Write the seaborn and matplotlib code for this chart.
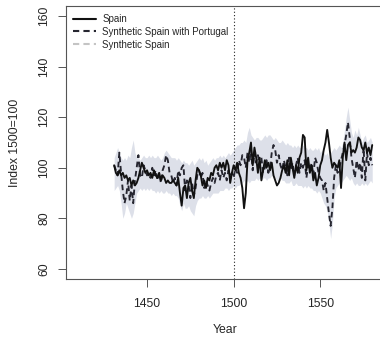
import matplotlib
matplotlib.use("Agg")
import matplotlib.pyplot as plt
from matplotlib.lines import Line2D
import numpy as np
import pandas as pd
import seaborn as sns

# years 1431..1580
years = list(range(1431, 1581))

spain = [
    101, 98, 97, 99, 97, 98, 96, 97, 95, 96,
    93, 95, 93, 94, 96, 99, 102, 100, 98, 99,
    97, 98, 96, 99, 97, 96, 98, 95, 97, 96,
    94, 95, 94, 94, 95, 94, 93, 96, 90, 85,
    92, 93, 88, 94, 96, 91, 88, 95, 100, 99,
    97, 93, 95, 92, 96, 95, 98, 97, 100, 101,
    99, 102, 100, 102, 99, 103, 101, 94, 98, 101,
    99, 102, 98, 96, 92, 84, 90, 103, 106, 110,
    101, 108, 104, 98, 104, 95, 99, 103, 100, 102,
    99, 102, 97, 95, 93, 94, 96, 99, 101, 98,
    103, 97, 104, 100, 96, 101, 98, 104, 106, 113,
    112, 99, 104, 98, 101, 95, 98, 93, 96, 101,
    103, 107, 110, 115, 110, 104, 100, 102, 101, 100,
    103, 92, 104, 110, 103, 109, 110, 106, 107, 106,
    108, 112, 111, 108, 107, 110, 106, 108, 105, 109,
]

synth_portugal = [
    101, 99, 97, 106, 98, 91, 86, 89, 95, 87,
    93, 86, 95, 100, 105, 97, 96, 101, 99, 97,
    98, 96, 100, 97, 99, 95, 98, 94, 99, 101,
    105, 103, 98, 97, 94, 96, 93, 99, 97, 100,
    101, 91, 95, 93, 88, 94, 89, 92, 97, 99,
    96, 98, 92, 95, 93, 91, 94, 96, 94, 97,
    98, 95, 99, 96, 98, 95, 99, 97, 98, 96,
    100, 98, 103, 101, 105, 104, 100, 106, 102, 107,
    99, 106, 102, 105, 101, 104, 98, 100, 103, 98,
    100, 106, 109, 107, 102, 105, 101, 99, 103, 100,
    97, 104, 99, 102, 97, 101, 104, 98, 102, 100,
    103, 96, 101, 99, 102, 97, 104, 102, 98, 96,
    95, 91, 94, 88, 82, 77, 84, 96, 101, 98,
    100, 103, 106, 109, 113, 118, 112, 104, 100, 96,
    103, 99, 102, 96, 108, 95, 106, 101, 104, 101,
]

band_hi = [
    104, 106, 108, 106, 104, 103, 104, 103, 105, 104,
    108, 111, 106, 104, 104, 103, 104, 105, 104, 104,
    105, 104, 105, 104, 104, 105, 104, 103, 104, 106,
    107, 106, 105, 104, 104, 104, 103, 104, 103, 102,
    103, 102, 102, 101, 102, 103, 101, 102, 103, 104,
    103, 104, 102, 103, 101, 102, 103, 104, 103, 104,
    104, 105, 104, 105, 104, 105, 106, 105, 106, 107,
    108, 109, 109, 110, 110, 111, 110, 114, 116, 113,
    112, 111, 112, 112, 111, 111, 112, 113, 112, 113,
    113, 112, 111, 112, 111, 110, 110, 111, 110, 109,
    110, 109, 109, 108, 109, 108, 109, 108, 108, 109,
    108, 108, 107, 108, 107, 107, 108, 107, 108, 106,
    107, 106, 105, 106, 104, 106, 107, 108, 107, 108,
    109, 108, 110, 115, 120, 124, 119, 114, 112, 115,
    113, 116, 113, 110, 112, 113, 110, 111, 112, 110,
]

band_lo = [
    91, 92, 93, 91, 86, 80, 82, 86, 84, 82,
    80, 82, 86, 90, 91, 92, 91, 92, 91, 92,
    91, 92, 91, 91, 90, 91, 90, 91, 90, 90,
    91, 90, 90, 89, 90, 89, 89, 88, 85, 83,
    86, 84, 84, 85, 83, 82, 81, 85, 87, 88,
    88, 89, 88, 88, 89, 88, 89, 90, 90, 90,
    90, 91, 91, 91, 92, 92, 91, 92, 92, 93,
    92, 93, 93, 94, 94, 95, 94, 95, 94, 95,
    95, 95, 96, 95, 96, 95, 96, 96, 95, 96,
    96, 97, 96, 96, 95, 95, 96, 95, 95, 94,
    94, 94, 95, 93, 93, 94, 93, 93, 93, 92,
    93, 92, 93, 92, 92, 91, 91, 90, 91, 90,
    88, 86, 85, 83, 78, 72, 78, 88, 92, 93,
    94, 94, 95, 96, 97, 96, 95, 96, 94, 93,
    94, 93, 93, 94, 93, 94, 93, 94, 95, 94,
]

y_ticks = [60, 80, 100, 120, 140, 160]
x_ticks = [1450, 1500, 1550]

sns.set_style("white")
plt.rcParams['font.family'] = ['Liberation Sans', 'DejaVu Sans']

df = pd.DataFrame({"Year": years, "Spain": spain, "SynthPT": synth_portugal,
                   "lo": band_lo, "hi": band_hi})

fig = plt.figure(figsize=(3.8, 3.37), dpi=100)
ax = fig.add_axes([66 / 380, 58 / 337, 318 / 380, 273 / 337])

ax.fill_between(df["Year"], df["lo"], df["hi"], color="#dde0e9", lw=0, zorder=1)
sns.lineplot(data=df, x="Year", y="SynthPT", ax=ax, color="#262630", lw=1.35,
             dashes=False, zorder=3)
ax.lines[-1].set_dashes((3, 2))
sns.lineplot(data=df, x="Year", y="Spain", ax=ax, color="#111111", lw=1.35, zorder=4)
ax.axvline(1500, color="#222222", lw=0.8, ls=(0, (1, 2)), zorder=2)

ax.set_xlim(1403.2, 1586.8)
ax.set_ylim(56, 164)
ax.set_xticks(x_ticks)
ax.set_yticks(y_ticks)
ax.set_xticklabels([str(t) for t in x_ticks])
ax.set_yticklabels([str(t) for t in y_ticks], rotation=90, va="center")

for s in ax.spines.values():
    s.set_color("#555555")
    s.set_linewidth(0.8)
ax.tick_params(direction="out", length=5.5, width=0.7, color="#555555",
               labelsize=8.8, pad=6, left=True, bottom=True)
ax.tick_params(axis="x", pad=8)
ax.set_xlabel("Year", fontsize=8.8, labelpad=10)
ax.set_ylabel("Index 1500=100", fontsize=8.8, labelpad=12)

handles = [
    Line2D([], [], color="#111111", lw=1.5),
    Line2D([], [], color="#262630", lw=1.5, dashes=(3, 2)),
    Line2D([], [], color="#c4c4c4", lw=1.5, dashes=(3, 2)),
]
ax.legend(handles, ["Spain", "Synthetic Spain with Portugal", "Synthetic Spain"],
          loc="upper left", frameon=False, fontsize=7.0, handlelength=2.4,
          handletextpad=0.6, labelspacing=0.3, borderaxespad=0.0,
          bbox_to_anchor=(0.01, 0.985))

fig.savefig("out.png", dpi=100)
